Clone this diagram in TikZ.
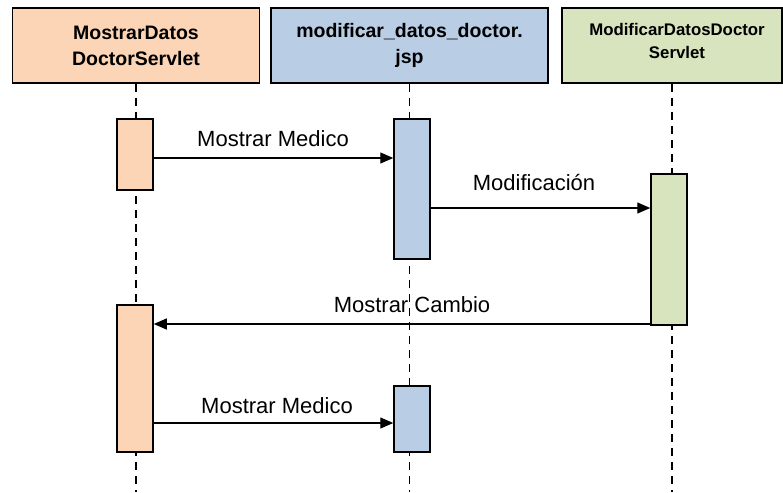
\documentclass[tikz,border=0pt]{standalone}
\usepackage{fontspec}
\setmainfont{Liberation Sans}
\usetikzlibrary{arrows.meta}
\definecolor{peach}{HTML}{FBD5B5}
\definecolor{steel}{HTML}{B9CDE5}
\definecolor{sage}{HTML}{D7E4BD}
\tikzset{
  header/.style={draw=black, line width=1.5pt, minimum height=75pt, inner sep=0pt, align=center,
                 font=\bfseries\fontsize{19.5}{26}\selectfont},
  lifeline/.style={draw=black, line width=1.3pt, dash pattern=on 8pt off 6pt},
  activation/.style={draw=black, line width=1.5pt, minimum width=36pt, inner sep=0pt},
  msg/.style={draw=black, line width=1.3pt, -{Triangle[length=13pt,width=11pt]}},
  msglabel/.style={font=\fontsize{22}{25}\selectfont, inner sep=0pt, anchor=base}
}
\begin{document}
\begin{tikzpicture}[x=1pt, y=-1pt]
  \useasboundingbox (0,0) rectangle (783,492);
  \fill[white] (0,0) rectangle (783,492);

  % participants
  \node[header, fill=peach, minimum width=247pt] (h1) at (136,45.5) {MostrarDatos\\DoctorServlet};
  \node[header, fill=steel, minimum width=277pt] (h2) at (409.5,45.5) {modificar\_datos\_doctor.\\jsp};
  \node[header, fill=sage, minimum width=220pt] (h3) at (672,45.5) {};
  \node[font=\bfseries\fontsize{16.8}{23}\selectfont, align=center, inner sep=0pt] (h3t) at (677,41) {ModificarDatosDoctor\\Servlet};

  % lifelines
  \coordinate (bot) at (0,492);
  \draw[lifeline] (h1.south) -- (h1.south |- bot);
  \draw[lifeline] (h2.south) -- (h2.south |- bot);
  \draw[lifeline] (h3.south) -- (h3.south |- bot);

  % activation bars
  \node[activation, fill=peach, minimum height=71pt]  (a1) at (135,154.5) {};
  \node[activation, fill=steel, minimum height=140pt] (b1) at (412,189) {};
  \node[activation, fill=sage,  minimum height=151pt] (c1) at (669,249.5) {};
  \node[activation, fill=peach, minimum height=147pt] (a2) at (135,378.5) {};
  \node[activation, fill=steel, minimum height=66pt]  (b2) at (412,419) {};

  % messages
  \coordinate (y1) at (0,158);
  \coordinate (y2) at (0,208);
  \coordinate (y3) at (0,324);
  \coordinate (y4) at (0,423);
  \draw[msg] (a1.east |- y1) -- (b1.west |- y1);
  \draw[msg] (b1.east |- y2) -- (c1.west |- y2);
  \draw[msg] (c1.west |- y3) -- (a2.east |- y3);
  \draw[msg] (a2.east |- y4) -- (b2.west |- y4);

  \node[msglabel] (l1) at (273,146) {Mostrar Medico};
  \node[msglabel] (l2) at (534,190) {Modificación};
  \node[msglabel] (l3) at (412,312) {Mostrar Cambio};
  \node[msglabel] (l4) at (277,413) {Mostrar Medico};
\end{tikzpicture}
\end{document}
